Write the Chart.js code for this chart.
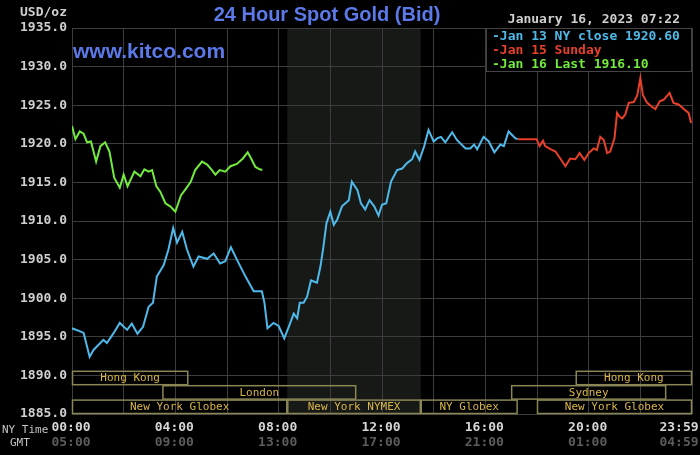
<!DOCTYPE html>
<html lang="en">
<head>
  <meta charset="UTF-8">
  <title>24 Hour Spot Gold (Bid)</title>
  <script src="https://cdn.jsdelivr.net/npm/chart.js"></script>
  <style>
    html, body { margin: 0; padding: 0; background: #000; }
    canvas { display: block; }
  </style>
</head>
<body>
  <canvas id="gold" width="700" height="455"></canvas>

  <script>
    // minutes after 00:00 NY time, price in USD/oz
    const jan13Times = [0, 19, 27, 41, 50, 73, 81, 97, 111, 128, 139, 152, 165, 178, 188, 197, 213, 224, 235, 244,
      256, 267, 282, 294, 314, 329, 344, 356, 369, 383, 403, 422, 441, 447, 454, 468, 480, 493, 507, 515,
      523, 529, 538, 546, 555, 569, 577, 583, 591, 600, 608, 616, 627, 643, 650, 663, 671, 681, 691, 702,
      712, 720, 730, 741, 755, 767, 778, 790, 797, 807, 818, 828, 840, 848, 857, 867, 883, 894, 914, 925,
      934, 941, 956, 968, 981, 995, 1003, 1014, 1030, 1035];
    const jan13Prices = [1896.1, 1895.7, 1895.5, 1892.4, 1893.3, 1894.6, 1894.2, 1895.5, 1896.8, 1895.9, 1896.7, 1895.4, 1896.3, 1898.9, 1899.4, 1902.8, 1904.3, 1906.3, 1909.1, 1907.2,
      1908.6, 1906.3, 1904.1, 1905.4, 1905.1, 1905.8, 1904.5, 1904.8, 1906.6, 1905.0, 1902.8, 1900.9, 1900.9, 1899.4, 1896.1, 1896.8, 1896.4, 1894.8, 1896.8, 1898.0,
      1897.4, 1899.4, 1899.4, 1900.2, 1902.3, 1902.0, 1904.1, 1906.3, 1909.7, 1911.2, 1909.5, 1910.2, 1911.9, 1912.7, 1915.1, 1914.0, 1912.3, 1911.5, 1912.7, 1911.9,
      1910.7, 1912.1, 1912.3, 1915.1, 1916.6, 1916.8, 1917.5, 1918.0, 1919.0, 1917.9, 1919.7, 1921.8, 1920.3, 1920.7, 1920.9, 1920.2, 1921.5, 1920.5, 1919.4, 1919.4,
      1919.9, 1919.3, 1920.9, 1920.3, 1918.9, 1919.9, 1919.7, 1921.6, 1920.7, 1920.6];

    const jan15Times = [1035, 1079, 1086, 1094, 1099, 1111, 1123, 1134, 1146, 1157, 1169, 1179, 1190, 1200, 1212, 1219, 1227, 1235, 1243, 1250,
      1260, 1266, 1272, 1278, 1285, 1293, 1305, 1313, 1320, 1326, 1336, 1347, 1355, 1365, 1374, 1388, 1397, 1409, 1421, 1432, 1438];
    const jan15Prices = [1920.6, 1920.6, 1919.7, 1920.4, 1919.7, 1919.3, 1919.0, 1918.1, 1917.1, 1918.1, 1918.0, 1918.8, 1917.9, 1918.8, 1919.4, 1919.2, 1920.9, 1920.5, 1918.8, 1919.0,
      1920.7, 1924.0, 1923.5, 1923.3, 1923.8, 1925.3, 1925.4, 1926.3, 1928.5, 1926.3, 1925.3, 1924.8, 1924.5, 1925.5, 1925.7, 1926.6, 1925.3, 1925.1, 1924.5, 1924.0, 1922.7];

    const jan16Times = [0, 8, 18, 27, 35, 44, 56, 66, 77, 87, 98, 111, 120, 129, 145, 159, 168, 178, 186, 196,
      205, 217, 228, 240, 253, 266, 276, 286, 302, 314, 325, 333, 343, 356, 368, 383, 397, 408, 416, 426, 436, 442];
    const jan16Prices = [1922.3, 1920.6, 1921.6, 1921.3, 1920.2, 1920.3, 1917.7, 1919.7, 1920.2, 1919.0, 1915.6, 1914.3, 1916.0, 1914.5, 1916.4, 1915.8, 1916.7, 1916.4, 1916.6, 1914.5,
      1913.8, 1912.3, 1911.9, 1911.2, 1913.3, 1914.3, 1915.1, 1916.6, 1917.7, 1917.3, 1916.6, 1916.0, 1916.6, 1916.4, 1917.1, 1917.4, 1918.1, 1918.9, 1918.1, 1917.0, 1916.7, 1916.6];

    const seriesNames = ['Jan 13 NY close 1920.60', 'Jan 15 Sunday', 'Jan 16 Last 1916.10'];
    const seriesColors = ['#4fb9e9', '#e8402a', '#72ea3e'];

    const xTickTimes = [0, 240, 480, 720, 960, 1200, 1440];
    const nyLabels = ['00:00', '04:00', '08:00', '12:00', '16:00', '20:00', '23:59'];
    const gmtLabels = ['05:00', '09:00', '13:00', '17:00', '21:00', '01:00', '04:59'];

    // trading sessions: name, start, end (minutes), row
    const sessionNames = ['Hong Kong', 'London', 'New York Globex', 'New York NYMEX', 'NY Globex', 'Hong Kong', 'Sydney', 'New York Globex'];
    const sessionStart = [0, 210, 0, 500, 810, 1170, 1020, 1080];
    const sessionEnd = [270, 660, 500, 810, 1035, 1440, 1380, 1440];
    const sessionRow = [0, 1, 2, 2, 2, 0, 1, 2];
    const nymexShade = [500, 810];

    const mono = '"DejaVu Sans Mono", monospace';
    const pair = (xs, ys) => xs.map((t, i) => ({ x: t, y: ys[i] }));

    const kitcoPlugin = {
      id: 'kitco',
      beforeDraw(chart) {
        const { ctx, chartArea: a, scales: { x } } = chart;
        ctx.save();
        ctx.fillStyle = '#000';
        ctx.fillRect(0, 0, chart.width, chart.height);
        const x0 = x.getPixelForValue(nymexShade[0]);
        const x1 = x.getPixelForValue(nymexShade[1]);
        ctx.fillStyle = '#171916';
        ctx.fillRect(x0, a.top, x1 - x0, a.bottom - a.top);
        ctx.restore();
      },
      afterDatasetsDraw(chart) {
        const { ctx, chartArea: a, scales: { x } } = chart;
        const rowH = 14.4;
        ctx.save();
        ctx.lineWidth = 1.5;
        ctx.strokeStyle = '#8a8656';
        ctx.fillStyle = '#d8b646';
        ctx.font = '11px ' + mono;
        ctx.textAlign = 'center';
        ctx.textBaseline = 'middle';
        sessionNames.forEach((name, i) => {
          const l = x.getPixelForValue(sessionStart[i]);
          const r = x.getPixelForValue(sessionEnd[i]);
          const top = a.bottom - (3 - sessionRow[i]) * rowH;
          ctx.strokeRect(l + 0.5, top + 0.5, r - l - 1, rowH - 1);
          ctx.fillText(name, (l + r) / 2, top + rowH / 2 + 0.5);
        });
        ctx.restore();
      },
      afterDraw(chart) {
        const { ctx, chartArea: a, scales: { x } } = chart;
        ctx.save();

        // title and site
        ctx.fillStyle = '#5b79e8';
        ctx.textBaseline = 'middle';
        ctx.textAlign = 'center';
        ctx.font = 'bold 20px "Liberation Sans", Arial, sans-serif';
        ctx.fillText('24 Hour Spot Gold (Bid)', 327, 15);
        ctx.textAlign = 'left';
        ctx.font = 'bold 21px "Liberation Sans", Arial, sans-serif';
        ctx.fillText('www.kitco.com', a.left + 1, 52);

        ctx.fillStyle = '#cfcfcf';
        ctx.font = 'bold 13px ' + mono;
        ctx.textAlign = 'right';
        ctx.fillText('USD/oz', 67, 13);
        ctx.fillText('January 16, 2023 07:22', 680, 20);

        // legend box
        const lx = 486;
        ctx.fillStyle = '#000';
        ctx.fillRect(lx, a.top, a.right - lx, 43);
        ctx.strokeStyle = '#444';
        ctx.lineWidth = 1;
        ctx.strokeRect(lx + 0.5, a.top + 0.5, a.right - lx - 1, 43);
        ctx.textAlign = 'left';
        seriesNames.forEach((name, i) => {
          ctx.fillStyle = seriesColors[i];
          ctx.fillText('-' + name, lx + 6, a.top + 8.5 + i * 14);
        });

        // x axis labels
        ctx.textAlign = 'center';
        xTickTimes.forEach((t, i) => {
          let px = x.getPixelForValue(t) - 1;
          px = Math.min(px, chart.width - 21);
          ctx.fillStyle = '#d6d6d6';
          ctx.fillText(nyLabels[i], px, a.bottom + 14);
          ctx.fillStyle = '#5c5c5c';
          ctx.fillText(gmtLabels[i], px, a.bottom + 29);
        });
        ctx.fillStyle = '#c4c4c4';
        ctx.font = '11px ' + mono;
        ctx.textAlign = 'left';
        ctx.fillText('NY Time', 2, a.bottom + 16);
        ctx.fillText('GMT', 10, a.bottom + 29);
        ctx.restore();
      }
    };

    new Chart(document.getElementById('gold'), {
      type: 'line',
      data: {
        datasets: [
          { label: seriesNames[0], data: pair(jan13Times, jan13Prices) },
          { label: seriesNames[1], data: pair(jan15Times, jan15Prices) },
          { label: seriesNames[2], data: pair(jan16Times, jan16Prices) }
        ].map((d, i) => ({
          ...d, borderColor: seriesColors[i], borderWidth: 2, pointRadius: 0, tension: 0
        }))
      },
      options: {
        responsive: false,
        animation: false,
        layout: { padding: { top: 28, right: 8, left: 0, bottom: 0 } },
        plugins: { legend: { display: false }, tooltip: { enabled: false } },
        scales: {
          x: {
            type: 'linear', min: 0, max: 1440,
            ticks: { display: false, stepSize: 120 },
            grid: { color: '#3d3d3d', lineWidth: 1, drawTicks: false },
            border: { display: false },
            afterFit: s => { s.height = 41; }
          },
          y: {
            min: 1885, max: 1935,
            ticks: {
              stepSize: 5, padding: 5, color: '#cfcfcf',
              font: { family: mono, size: 13, weight: 'bold' },
              callback: v => v.toFixed(1)
            },
            grid: { color: '#3d3d3d', lineWidth: 1, drawTicks: false },
            border: { display: false },
            afterFit: s => { s.width = 72; }
          }
        }
      },
      plugins: [kitcoPlugin]
    });
  </script>
</body>
</html>
